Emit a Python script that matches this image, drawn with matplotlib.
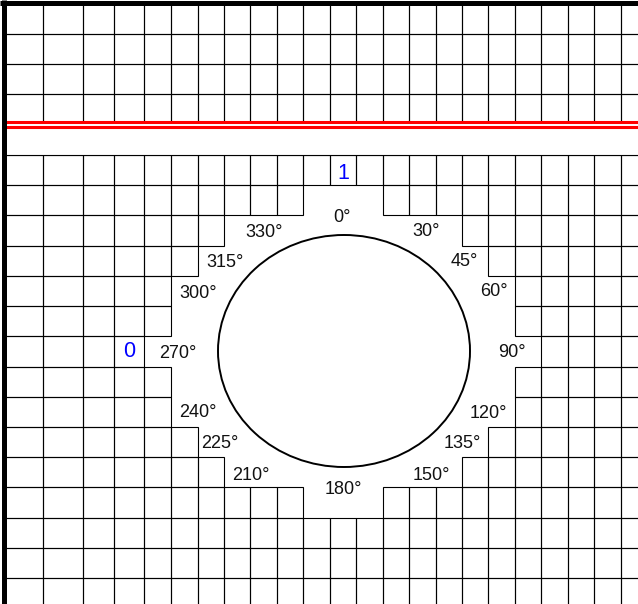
import matplotlib
matplotlib.use("Agg")
import matplotlib.pyplot as plt
from matplotlib.patches import Rectangle, Ellipse

# ---- data -------------------------------------------------------------
# column boundaries of the table grid (pixels)
col_edges = [4.5, 43, 83, 114, 144, 171, 197.5, 224, 250.3, 276.8, 303.3, 329.7,
             356.2, 382.6, 409, 435.5, 462, 488.4, 514.9, 541.3, 567.8, 594.2,
             620.6, 647]
# row boundaries: upper block (above the red rule) and lower block
top_row_edges = [3.5, 33.5, 63.5, 94, 122]
low_row_edges = [155, 185.2, 215.4, 245.6, 275.8, 306, 336.3, 366.5, 396.7,
                 426.9, 457.1, 487.3, 517.5, 547.7, 578, 608.2]
# blank (removed) cells per lower row: (first col, last col) or None
blank_cols = [None, (10, 12), (7, 15), (6, 16), (5, 17), (5, 17), (4, 18),
              (5, 17), (5, 17), (6, 16), (7, 15), (10, 12), None, None, None]
# angle labels around the ellipse
angle_labels = ['0°', '30°', '45°', '60°', '90°', '120°', '135°', '150°',
                '180°', '210°', '225°', '240°', '270°', '300°', '315°', '330°']
# cell markers in blue: (text, row, col) in the lower grid
cell_markers = [('1', 0, 11), ('0', 6, 3)]

# ---- layout ------------------------------------------------------------
label_pos = [(342, 221.5), (426.5, 235.5), (464.5, 266), (493.5, 296.5),
             (512, 357), (488.5, 418), (462.5, 448), (431.5, 480),
             (343.5, 493.5), (250.5, 480), (219.5, 448), (198, 417),
             (177.5, 358), (198, 297.5), (225, 267), (264, 237)]
marker_baseline_gap = [6.5, 9.5]   # distance of text baseline above cell bottom
W, H = 638, 604
fig = plt.figure(figsize=(W / 100, H / 100), dpi=100)
ax = fig.add_axes([0, 0, 1, 1])
ax.set_xlim(0, W)
ax.set_ylim(H, 0)
ax.axis('off')

grid_lw = 0.8
font = ['Liberation Sans', 'DejaVu Sans']


def cell(x0, x1, y0, y1):
    ax.add_patch(Rectangle((x0, y0), x1 - x0, y1 - y0, fill=False,
                           ec='black', lw=grid_lw, zorder=2))


# upper block
for r in range(len(top_row_edges) - 1):
    for c in range(len(col_edges) - 1):
        cell(col_edges[c], col_edges[c + 1], top_row_edges[r], top_row_edges[r + 1])

# lower block with the blank stepped region
for r in range(len(low_row_edges) - 1):
    for c in range(len(col_edges) - 1):
        b = blank_cols[r]
        if b is not None and b[0] <= c <= b[1]:
            continue
        cell(col_edges[c], col_edges[c + 1], low_row_edges[r], low_row_edges[r + 1])

# white band between blocks (cover)
ax.add_patch(Rectangle((6, 123), W, 31.5, fc='white', ec='none', zorder=3))
ax.hlines(155, 6, W, color='black', lw=grid_lw, zorder=4)

# red double rule
ax.hlines([122.3, 127.4], 6, W, color='#ff0000', lw=2.2, zorder=5)

# thick borders
ax.vlines(4.3, 0, H, color='black', lw=3.6, zorder=6)
ax.hlines(3.4, 0, W, color='black', lw=3.6, zorder=6)

# ellipse
ax.add_patch(Ellipse((344, 351), 252, 232, fill=False, ec='black', lw=1.4, zorder=4))

# angle labels
for t, (x, y) in zip(angle_labels, label_pos):
    ax.text(x, y, t, ha='center', va='baseline', fontsize=13,
            family=font, color='#111111', zorder=7)

# blue cell markers
for (t, r, c), gap in zip(cell_markers, marker_baseline_gap):
    x = (col_edges[c] + col_edges[c + 1]) / 2
    y = low_row_edges[r + 1] - gap
    ax.text(x, y, t, ha='center', va='baseline', fontsize=15.5,
            family=font, color='#0000ff', zorder=7)

fig.savefig('out.png', dpi=100)
